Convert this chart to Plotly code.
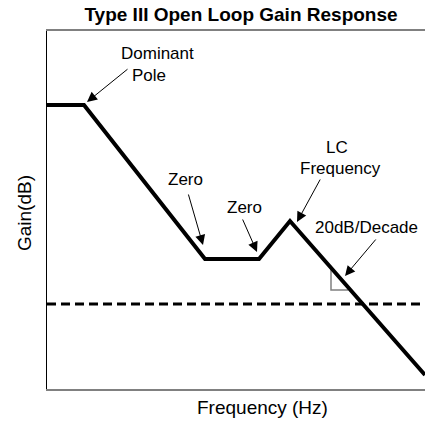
import plotly.graph_objects as go

# Asymptotic gain curve (arbitrary log-frequency / gain units)
freq = [0, 37, 158, 212, 243, 378]
gain = [284, 284, 130, 130, 168, 14]

# Crossover (0 dB) reference level
zero_db_freq = [0, 378]
zero_db_gain = [85, 85]

# Slope indicator triangle (legs only)
tri_freq = [284, 284, 301]
tri_gain = [121, 99, 99]

# Labels: text, x, y
label_text = ["Dominant", "Pole", "Zero", "Zero", "LC", "Frequency", "20dB/Decade"]
label_x = [110, 102, 138, 197, 290, 293, 319]
label_y = [336, 314, 210, 182, 242, 221, 162]

# Arrows: tail -> tip
arrow_tail_x = [82, 141, 195, 274, 330]
arrow_tail_y = [321, 196, 171, 211, 151]
arrow_tip_x = [40, 156, 210, 250, 298]
arrow_tip_y = [287, 144, 137, 167, 113]

FONT = "Liberation Sans, Arial, sans-serif"

fig = go.Figure()
fig.add_trace(go.Scatter(x=zero_db_freq, y=zero_db_gain, mode="lines",
                         line=dict(color="black", width=3, dash="9px,5px"),
                         hoverinfo="skip", showlegend=False))
fig.add_trace(go.Scatter(x=tri_freq, y=tri_gain, mode="lines",
                         line=dict(color="#808080", width=1.5),
                         hoverinfo="skip", showlegend=False))
fig.add_trace(go.Scatter(x=freq, y=gain, mode="lines",
                         line=dict(color="black", width=4),
                         hoverinfo="skip", showlegend=False))

annotations = []
for t, x, y in zip(label_text, label_x, label_y):
    annotations.append(dict(x=x, y=y, xref="x", yref="y", text=t, showarrow=False,
                            font=dict(family=FONT, size=17, color="black"),
                            xanchor="center", yanchor="middle"))
for tx, ty, hx, hy in zip(arrow_tail_x, arrow_tail_y, arrow_tip_x, arrow_tip_y):
    annotations.append(dict(x=hx, y=hy, ax=tx, ay=ty, xref="x", yref="y",
                            axref="x", ayref="y", text="", showarrow=True,
                            arrowhead=2, arrowsize=2, arrowwidth=1,
                            arrowcolor="black", standoff=0, startstandoff=0))
annotations.append(dict(x=0.5688, y=-0.0503, xref="paper", yref="paper",
                        text="Frequency (Hz)", showarrow=False,
                        font=dict(family=FONT, size=19, color="black"),
                        xanchor="center", yanchor="middle"))
annotations.append(dict(x=-0.0608, y=0.4916, xref="paper", yref="paper",
                        text="Gain(dB)", showarrow=False, textangle=-90,
                        font=dict(family=FONT, size=19, color="black"),
                        xanchor="center", yanchor="middle"))

fig.update_layout(
    width=425, height=421,
    margin=dict(l=47, r=0, t=31, b=32),
    paper_bgcolor="white", plot_bgcolor="white",
    title=dict(text="<b>Type III Open Loop Gain Response</b>",
               x=241 / 425, xref="container", xanchor="center",
               y=1 - 14 / 421, yref="container", yanchor="middle",
               font=dict(family=FONT, size=19, color="black")),
    xaxis=dict(range=[0, 378], showgrid=False, zeroline=False, showticklabels=False,
               ticks="", showline=True, linecolor="#808080", linewidth=2, mirror=True),
    yaxis=dict(range=[0, 358], showgrid=False, zeroline=False, showticklabels=False,
               ticks="", showline=True, linecolor="black", linewidth=1.5),
    annotations=annotations,
    showlegend=False,
    hovermode=False,
)

fig.write_html("out.html", config={"displayModeBar": False, "staticPlot": True},
               post_script="document.body.style.margin='0';document.body.style.overflow='hidden';")
